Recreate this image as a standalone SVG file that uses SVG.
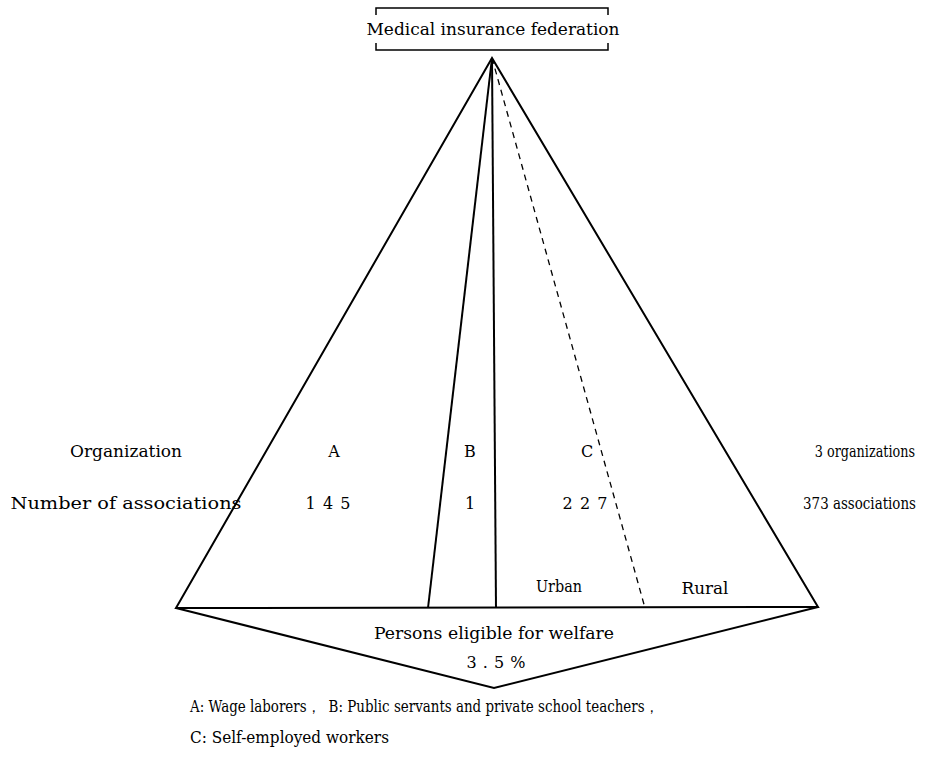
<svg xmlns="http://www.w3.org/2000/svg" width="925" height="758" viewBox="0 0 925 758">
<style>
text{font-family:"DejaVu Serif","Liberation Serif",serif;font-size:16px;fill:#000}
.m{text-anchor:middle}
.e{text-anchor:end}
.ln{stroke:#000;stroke-width:2;fill:none}
.thin{stroke:#000;stroke-width:1.5;fill:none}
.dash{stroke:#000;stroke-width:1.3;fill:none;stroke-dasharray:6,5}
</style>
<rect width="925" height="758" fill="#fff"/>
<g id="federation">
<path class="thin" d="M376,15 V8 H608 V15 M376,43 V50 H608 V43"/>
<text class="m" x="493" y="35" font-size="17" textLength="253" lengthAdjust="spacingAndGlyphs">Medical insurance federation</text>
</g>
<g id="connectors">
<path class="ln" d="M492,58 L176,608 L818,607 Z"/>
<path class="ln" d="M492,58 L428,608"/>
<path class="ln" d="M492,58 L496,608"/>
<path class="dash" d="M492,58 L645,608"/>
<path class="ln" d="M176,608 L494,688 L818,607"/>
</g>
<g id="labels-left">
<text class="m" x="126" y="457" textLength="112" lengthAdjust="spacingAndGlyphs">Organization</text>
<text class="m" x="126" y="509" font-size="17" textLength="231" lengthAdjust="spacingAndGlyphs">Number of associations</text>
</g>
<g id="groupA">
<text class="m" x="334" y="457">A</text>
<text class="m" x="328" y="509" textLength="45" xml:space="preserve">1 4 5</text>
</g>
<g id="groupB">
<text class="m" x="470" y="457">B</text>
<text class="m" x="470" y="509">1</text>
</g>
<g id="groupC">
<text class="m" x="587" y="457">C</text>
<text class="m" x="585" y="509" textLength="45" xml:space="preserve">2 2 7</text>
<text class="m" x="559" y="592" font-size="15" textLength="46" lengthAdjust="spacingAndGlyphs">Urban</text>
<text class="m" x="705" y="594" font-size="15" textLength="47" lengthAdjust="spacingAndGlyphs">Rural</text>
</g>
<g id="labels-right">
<text class="e" transform="translate(915,457) scale(0.8,1)" x="0" y="0" font-size="15">3 organizations</text>
<text class="e" transform="translate(916,509) scale(0.84,1)" x="0" y="0" font-size="15">373 associations</text>
</g>
<g id="welfare">
<text class="m" x="494" y="639" textLength="240" lengthAdjust="spacingAndGlyphs">Persons eligible for welfare</text>
<text class="m" x="496" y="668" font-size="17" textLength="59" xml:space="preserve">3 . 5 %</text>
</g>
<g id="legend">
<text x="190" y="712" font-size="15" textLength="468" lengthAdjust="spacingAndGlyphs" xml:space="preserve">A: Wage laborers，  B: Public servants and private school teachers，</text>
<text x="190" y="743" font-size="15" textLength="199" lengthAdjust="spacingAndGlyphs">C: Self-employed workers</text>
</g>
</svg>
